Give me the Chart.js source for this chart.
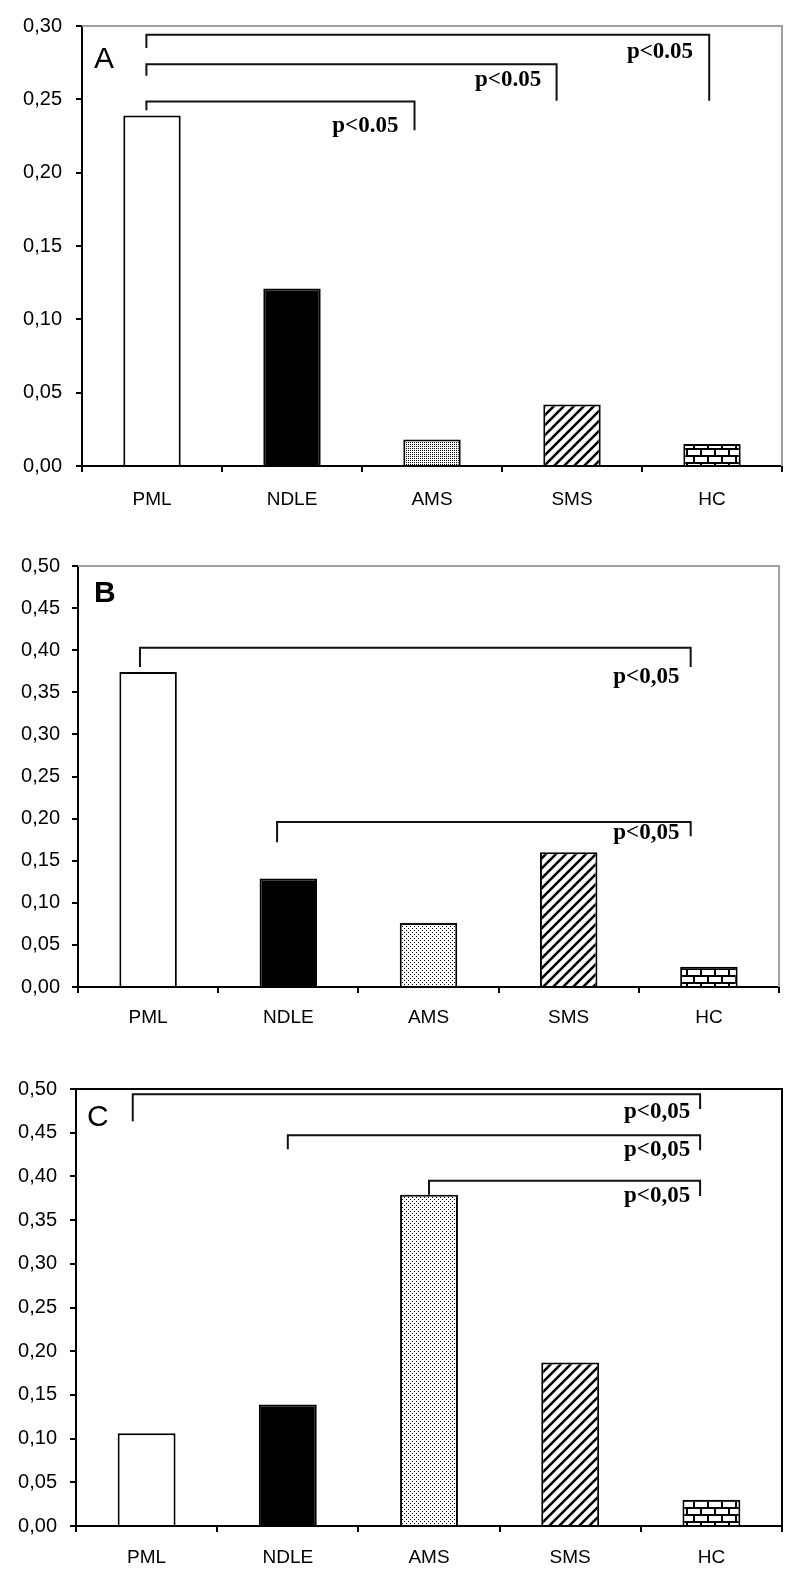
<!DOCTYPE html>
<html lang="en">
<head>
<meta charset="UTF-8">
<title>PML / NDLE / AMS / SMS / HC</title>
<script src="https://cdn.jsdelivr.net/npm/chart.js"></script>
<style>
  body { margin: 0; background: #fff; }
  .panel { position: absolute; left: 0; width: 800px; }
  #panelA { top: 0; height: 520px; }
  #panelB { top: 520px; height: 525px; }
  #panelC { top: 1045px; height: 532px; }
</style>
</head>
<body>
<div class="panel" id="panelA"><canvas id="chartA"></canvas></div>
<div class="panel" id="panelB"><canvas id="chartB"></canvas></div>
<div class="panel" id="panelC"><canvas id="chartC"></canvas></div>

<script>
// data
const groups = ['PML', 'NDLE', 'AMS', 'SMS', 'HC'];
const valuesA = [0.239, 0.121, 0.018, 0.042, 0.015];
const valuesB = [0.374, 0.129, 0.076, 0.160, 0.024];
const valuesC = [0.106, 0.139, 0.379, 0.187, 0.030];
const axisMaxA = 0.30;
const axisMaxB = 0.50;
const axisMaxC = 0.50;
const tickStep = 0.05;

// significance brackets: [from, to, top, left end, right end, text, text right edge, text middle]
// x in category index units, y in data units
const bracketsA = [
    [-0.04, 3.98, 0.294, 0.285, 0.249, 'p<0.05', 3.865, 0.282],
    [-0.04, 2.89, 0.274, 0.266, 0.249, 'p<0.05', 2.78, 0.263],
    [-0.04, 1.875, 0.2485, 0.2426, 0.229, 'p<0.05', 1.76, 0.2315]
];
const bracketsB = [
    [-0.058, 3.87, 0.403, 0.380, 0.380, 'p<0,05', 3.79, 0.368],
    [0.92, 3.87, 0.196, 0.172, 0.179, 'p<0,05', 3.79, 0.183]
];
const bracketsC = [
    [-0.098, 3.92, 0.494, 0.463, 0.477, 'p<0,05', 3.85, 0.474],
    [1.0, 3.92, 0.447, 0.431, 0.430, 'p<0,05', 3.85, 0.430],
    [2.0, 3.92, 0.395, 0.379, 0.3775, 'p<0,05', 3.85, 0.377]
];

Chart.defaults.font.family = '"Liberation Sans", Arial, sans-serif';
Chart.defaults.font.size = 20;
Chart.defaults.color = '#000';

// fill patterns
function makeTile(w, h, draw) {
    const c = document.createElement('canvas');
    c.width = w; c.height = h;
    const g = c.getContext('2d');
    g.fillStyle = '#fff';
    g.fillRect(0, 0, w, h);
    g.fillStyle = '#000';
    g.strokeStyle = '#000';
    draw(g);
    return document.createElement('canvas').getContext('2d').createPattern(c, 'repeat');
}

function dots(step) {
    return makeTile(step, step, g => {
        g.fillRect(0, 0, 1, 1);
        if (step > 2) g.fillRect(step / 2, step / 2, 1, 1);
    });
}

const stripes = makeTile(10, 10, g => {
    g.lineWidth = 2.6;
    g.beginPath();
    g.moveTo(-1, 11); g.lineTo(11, -1);
    g.moveTo(-6, 6); g.lineTo(6, -6);
    g.moveTo(4, 16); g.lineTo(16, 4);
    g.stroke();
});

const bricks = makeTile(14, 14, g => {
    g.fillRect(0, 0, 14, 2);
    g.fillRect(0, 7, 14, 2);
    g.fillRect(0, 2, 2, 5);
    g.fillRect(7, 9, 2, 5);
});

function fills(dotStep) {
    return ['#fff', '#000', dots(dotStep), stripes, bricks];
}

// frame, panel letter and brackets
const decor = {
    id: 'decor',
    afterDraw(chart, args, opts) {
        const ctx = chart.ctx;
        const a = chart.chartArea;
        const x = chart.scales.x, y = chart.scales.y;
        ctx.save();
        ctx.strokeStyle = opts.frame;
        ctx.lineWidth = 2;
        ctx.beginPath();
        ctx.moveTo(a.left, a.top);
        ctx.lineTo(a.right, a.top);
        ctx.lineTo(a.right, a.bottom);
        ctx.stroke();

        ctx.fillStyle = '#000';
        ctx.font = (opts.bold ? 'bold ' : '') + '30px "Liberation Sans", Arial, sans-serif';
        ctx.textBaseline = 'middle';
        ctx.textAlign = 'left';
        ctx.fillText(opts.letter, a.left + opts.letterDx, a.top + opts.letterDy);

        ctx.strokeStyle = '#111';
        ctx.lineWidth = 2;
        ctx.font = 'bold 23px "Liberation Serif", "Times New Roman", serif';
        ctx.textAlign = 'right';
        opts.brackets.forEach(b => {
            const x1 = x.getPixelForValue(b[0]);
            const x2 = x.getPixelForValue(b[1]);
            ctx.beginPath();
            ctx.moveTo(x1, y.getPixelForValue(b[3]));
            ctx.lineTo(x1, y.getPixelForValue(b[2]));
            ctx.lineTo(x2, y.getPixelForValue(b[2]));
            ctx.lineTo(x2, y.getPixelForValue(b[4]));
            ctx.stroke();
            ctx.fillText(b[5], x.getPixelForValue(b[6]), y.getPixelForValue(b[7]));
        });
        ctx.restore();
    }
};

function makeChart(id, values, axisMax, dotStep, lay, decorOpts) {
    return new Chart(document.getElementById(id), {
        type: 'bar',
        data: {
            labels: groups,
            datasets: [{
                data: values,
                backgroundColor: fills(dotStep),
                borderColor: '#000',
                borderWidth: 2,
                barPercentage: 0.41,
                categoryPercentage: 1.0
            }]
        },
        options: {
            responsive: true,
            maintainAspectRatio: false,
            animation: false,
            layout: { padding: { top: lay.top, right: lay.right, left: 0, bottom: 0 } },
            plugins: {
                legend: { display: false },
                tooltip: { enabled: false },
                decor: decorOpts
            },
            scales: {
                x: {
                    afterFit: s => { s.height = lay.xh; },
                    border: { display: true, color: '#000', width: 2 },
                    grid: { display: true, drawOnChartArea: false, color: '#000', lineWidth: 2, tickLength: 6 },
                    ticks: { padding: lay.xpad, font: { size: 19 } }
                },
                y: {
                    min: 0,
                    max: axisMax,
                    afterFit: s => { s.width = lay.yw; },
                    border: { display: true, color: '#000', width: 2 },
                    grid: { display: true, drawOnChartArea: false, color: '#000', lineWidth: 2, tickLength: 6 },
                    ticks: {
                        stepSize: tickStep,
                        padding: lay.ypad,
                        font: { size: 20 },
                        callback: v => v.toFixed(2).replace('.', ',')
                    }
                }
            }
        },
        plugins: [decor]
    });
}

makeChart('chartA', valuesA, axisMaxA, 2,
    { top: 24, right: 18, xh: 54, yw: 82, xpad: 16, ypad: 14 },
    { letter: 'A', bold: false, letterDx: 12, letterDy: 34, frame: '#a0a0a0', brackets: bracketsA });

makeChart('chartB', valuesB, axisMaxB, 4,
    { top: 46, right: 21, xh: 58, yw: 78, xpad: 13, ypad: 12 },
    { letter: 'B', bold: true, letterDx: 16, letterDy: 28, frame: '#a0a0a0', brackets: bracketsB });

makeChart('chartC', valuesC, axisMaxC, 4,
    { top: 44, right: 18, xh: 51, yw: 76, xpad: 14, ypad: 13 },
    { letter: 'C', bold: false, letterDx: 11, letterDy: 29, frame: '#000', brackets: bracketsC });
</script>
</body>
</html>
